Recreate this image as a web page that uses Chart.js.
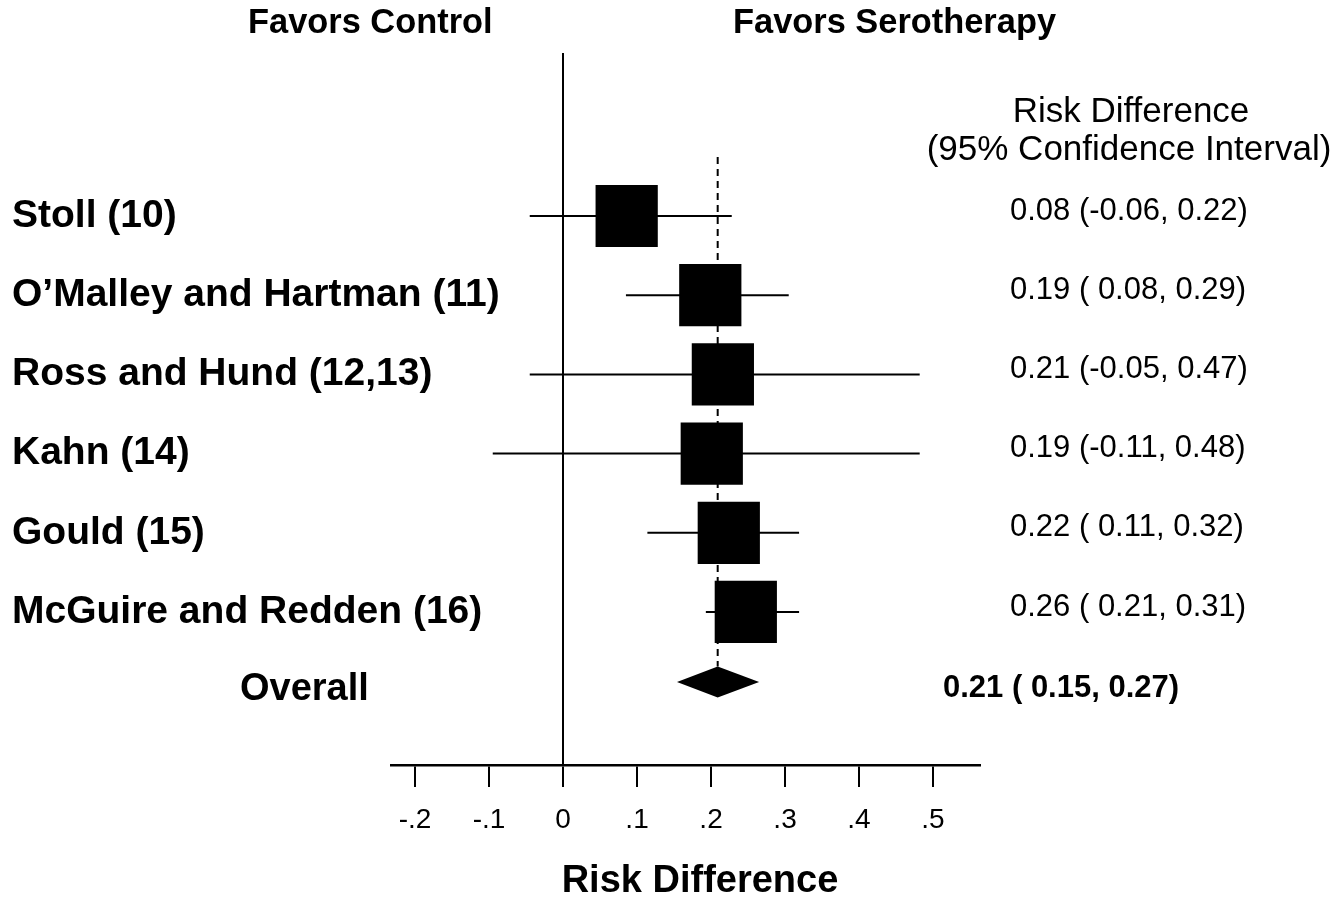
<!DOCTYPE html>
<html>
<head>
<meta charset="utf-8">
<script src="https://cdn.jsdelivr.net/npm/chart.js@4.4.0/dist/chart.umd.min.js"></script>
<style>
  html, body { margin: 0; padding: 0; background: #fff; }
  #wrap { width: 1334px; height: 901px; }
</style>
</head>
<body>
<div id="wrap"><canvas id="forest" width="1334" height="901"></canvas></div>
<script>
// study rows, top to bottom
const studies = ['Stoll (10)', 'O\u2019Malley and Hartman (11)', 'Ross and Hund (12,13)', 'Kahn (14)', 'Gould (15)', 'McGuire and Redden (16)'];
const estimates = [0.086, 0.199, 0.216, 0.201, 0.224, 0.247];
const lower = [-0.045, 0.085, -0.045, -0.095, 0.114, 0.193];
const upper = [0.228, 0.305, 0.482, 0.482, 0.319, 0.319];
const ciLabels = ['0.08 (-0.06, 0.22)', '0.19 ( 0.08, 0.29)', '0.21 (-0.05, 0.47)', '0.19 (-0.11, 0.48)', '0.22 ( 0.11, 0.32)', '0.26 ( 0.21, 0.31)'];

const overallLabel = 'Overall';
const overallEst = 0.209;
const overallLower = 0.154;
const overallUpper = 0.265;
const overallCiLabel = '0.21 ( 0.15, 0.27)';

const tickValues = [-0.2, -0.1, 0, 0.1, 0.2, 0.3, 0.4, 0.5];
const tickLabels = ['-.2', '-.1', '0', '.1', '.2', '.3', '.4', '.5'];
const xTitle = 'Risk Difference';

const FONT = "'Liberation Sans', Arial, sans-serif";
const OVERALL_ROW = 5.884;

const ciDatasets = studies.map((s, i) => ({
    label: s,
    data: [{ x: lower[i], y: i }, { x: upper[i], y: i }],
    showLine: true,
    borderColor: '#000',
    borderWidth: 2,
    pointRadius: 0,
    order: 2
}));

// text + summary diamond, positioned through the chart scales
const forestText = {
    id: 'forestText',
    afterDatasetsDraw(chart) {
        const { ctx, scales: { x, y } } = chart;
        const cy = y.getPixelForValue(OVERALL_ROW);
        ctx.save();
        ctx.fillStyle = '#000';
        ctx.beginPath();
        ctx.moveTo(x.getPixelForValue(overallLower), cy);
        ctx.lineTo(x.getPixelForValue(overallEst), cy - 15.5);
        ctx.lineTo(x.getPixelForValue(overallUpper), cy);
        ctx.lineTo(x.getPixelForValue(overallEst), cy + 15.5);
        ctx.closePath();
        ctx.fill();

        ctx.textBaseline = 'middle';
        ctx.textAlign = 'left';
        ctx.font = 'bold 34.4px ' + FONT;
        ctx.fillText('Favors Control', 248, 24);
        ctx.fillText('Favors Serotherapy', 733, 24);

        ctx.textAlign = 'center';
        ctx.font = '35px ' + FONT;
        ctx.fillText('Risk Difference', 1131, 112);
        ctx.fillText('(95% Confidence Interval)', 1129, 150);

        ctx.font = 'bold 38px ' + FONT;
        ctx.fillText(xTitle, 700, 882);

        ctx.textAlign = 'left';
        studies.forEach((s, i) => {
            const py = y.getPixelForValue(i);
            ctx.font = 'bold 39px ' + FONT;
            ctx.fillText(s, 12, py);
            ctx.font = '31px ' + FONT;
            ctx.fillText(ciLabels[i], 1010, py - 5);
        });
        ctx.font = 'bold 38px ' + FONT;
        ctx.fillText(overallLabel, 240, cy + 8);
        ctx.font = 'bold 31px ' + FONT;
        ctx.fillText(overallCiLabel, 943, cy + 6);
        ctx.restore();
    }
};

new Chart('forest', {
    type: 'scatter',
    data: {
        datasets: [
            {
                label: 'overall',
                data: [{ x: overallEst, y: -0.745 }, { x: overallEst, y: OVERALL_ROW - 0.196 }],
                showLine: true,
                borderColor: '#000',
                borderWidth: 2,
                borderDash: [7, 5],
                pointRadius: 0,
                order: 3
            },
            ...ciDatasets,
            {
                label: 'estimates',
                data: estimates.map((v, i) => ({ x: v, y: i })),
                pointStyle: 'rect',
                pointRadius: 44,
                pointHoverRadius: 44,
                backgroundColor: '#000',
                borderWidth: 0,
                order: 1
            }
        ]
    },
    options: {
        responsive: false,
        animation: false,
        devicePixelRatio: 1,
        layout: { padding: { left: 391, right: 354, top: 53, bottom: 0 } },
        plugins: { legend: { display: false }, tooltip: { enabled: false } },
        scales: {
            x: {
                type: 'linear',
                min: -0.2325,
                max: 0.5635,
                afterBuildTicks: (scale) => { scale.ticks = tickValues.map(v => ({ value: v })); },
                afterFit: (scale) => { scale.height = 136; },
                ticks: {
                    autoSkip: false,
                    maxRotation: 0,
                    padding: 16,
                    color: '#000',
                    font: { family: FONT, size: 28 },
                    callback: (v) => tickLabels[tickValues.findIndex(t => Math.abs(t - v) < 1e-9)]
                },
                grid: {
                    drawOnChartArea: true,
                    color: (c) => (c.tick && Math.abs(c.tick.value) < 1e-9) ? '#000' : 'rgba(0,0,0,0)',
                    tickColor: '#000',
                    tickLength: 22,
                    lineWidth: 2
                },
                border: { display: true, color: '#000', width: 2.5 },
                title: { display: false }
            },
            y: {
                type: 'linear',
                display: false,
                reverse: true,
                min: -2.058,
                max: 6.932
            }
        }
    },
    plugins: [forestText]
});
</script>
</body>
</html>
